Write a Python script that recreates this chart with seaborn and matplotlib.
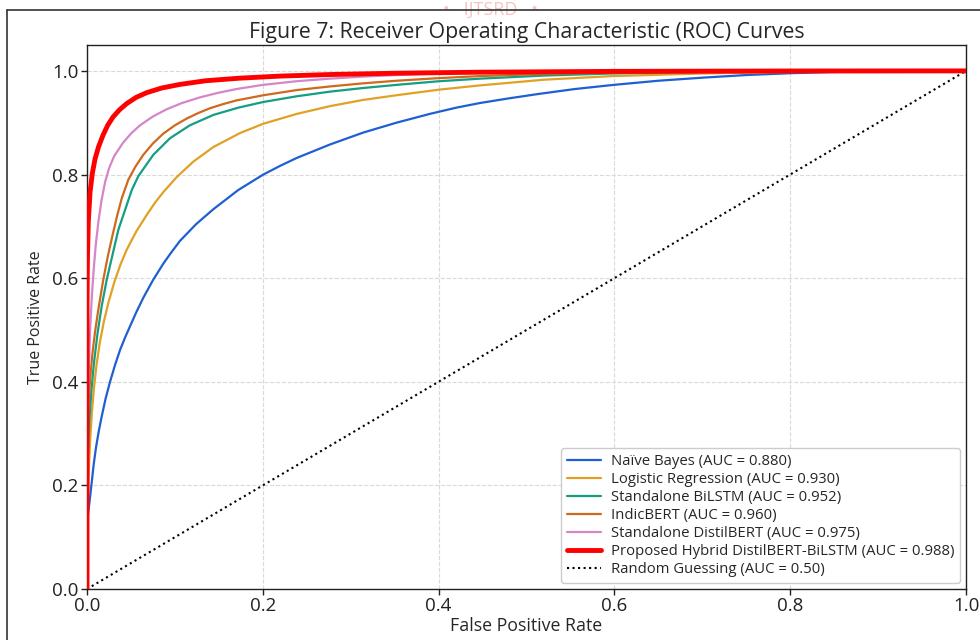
import numpy as np
import pandas as pd
import matplotlib
matplotlib.use("Agg")
import matplotlib.pyplot as plt
from matplotlib.lines import Line2D
import seaborn as sns

# ROC points
nb_fpr = [0.0, 0.0, 0.0008, 0.0026, 0.0053, 0.0077, 0.0102, 0.0133, 0.0167, 0.0212, 0.0262,
          0.0318, 0.0375, 0.0432, 0.0489, 0.056, 0.064, 0.075, 0.0868, 0.096, 0.1058, 0.124,
          0.1437, 0.172, 0.2006, 0.22, 0.2386, 0.2765, 0.3143, 0.352, 0.39, 0.42, 0.447,
          0.48, 0.5116, 0.555, 0.599, 0.65, 0.701, 0.75, 0.80, 0.85, 0.902, 0.95, 1.0]
nb_tpr = [0.0, 0.12, 0.14, 0.165, 0.205, 0.242, 0.273, 0.304, 0.333, 0.368, 0.400,
          0.432, 0.461, 0.485, 0.507, 0.534, 0.562, 0.596, 0.628, 0.650, 0.672, 0.704,
          0.733, 0.770, 0.800, 0.817, 0.832, 0.858, 0.881, 0.900, 0.917, 0.929, 0.938,
          0.947, 0.955, 0.965, 0.973, 0.981, 0.987, 0.992, 0.9955, 0.998, 0.999, 0.9997, 1.0]

lr_fpr = [0.0, 0.0, 0.0008, 0.002, 0.0035, 0.0055, 0.008, 0.011, 0.0145, 0.019, 0.0242,
          0.031, 0.038, 0.0452, 0.056, 0.0679, 0.0775, 0.0868, 0.102, 0.121, 0.1437, 0.174,
          0.2006, 0.2386, 0.2765, 0.3143, 0.352, 0.4016, 0.447, 0.52, 0.598, 0.70, 0.80,
          0.90, 1.0]
lr_tpr = [0.0, 0.08, 0.16, 0.23, 0.285, 0.34, 0.39, 0.435, 0.475, 0.515, 0.552,
          0.592, 0.626, 0.655, 0.690, 0.722, 0.746, 0.766, 0.795, 0.825, 0.853, 0.880,
          0.898, 0.917, 0.932, 0.944, 0.953, 0.964, 0.972, 0.983, 0.990, 0.995, 0.998,
          0.9995, 1.0]

bilstm_fpr = [0.0, 0.0, 0.001, 0.0025, 0.005, 0.008, 0.012, 0.0167, 0.0224, 0.0356, 0.0509,
              0.0584, 0.0754, 0.0944, 0.117, 0.1437, 0.172, 0.2006, 0.2386, 0.2765, 0.3143,
              0.352, 0.40, 0.447, 0.52, 0.598, 0.70, 0.80, 1.0]
bilstm_tpr = [0.0, 0.18, 0.26, 0.32, 0.384, 0.438, 0.494, 0.546, 0.597, 0.693, 0.770,
              0.797, 0.838, 0.870, 0.895, 0.915, 0.929, 0.940, 0.951, 0.960, 0.967,
              0.973, 0.980, 0.985, 0.991, 0.995, 0.998, 0.9993, 1.0]

indic_fpr = [0.0, 0.0, 0.0005, 0.0015, 0.0035, 0.006, 0.009, 0.0129, 0.0185, 0.024, 0.030,
             0.0345, 0.0395, 0.047, 0.055, 0.064, 0.075, 0.0868, 0.10, 0.1134, 0.127, 0.140,
             0.155, 0.170, 0.2006, 0.2386, 0.2765, 0.3143, 0.352, 0.40, 0.447, 0.52, 0.598,
             0.70, 0.80, 1.0]
indic_tpr = [0.0, 0.15, 0.29, 0.35, 0.405, 0.452, 0.495, 0.540, 0.597, 0.645, 0.690,
             0.722, 0.754, 0.790, 0.815, 0.838, 0.860, 0.879, 0.895, 0.908, 0.919, 0.928,
             0.936, 0.943, 0.953, 0.963, 0.970, 0.976, 0.981, 0.986, 0.990, 0.994, 0.997,
             0.999, 0.9997, 1.0]

distil_fpr = [0.0, 0.0, 0.0003, 0.001, 0.002, 0.0035, 0.0053, 0.0075, 0.010, 0.013, 0.0165,
              0.0205, 0.025, 0.031, 0.0413, 0.05, 0.0603, 0.075, 0.0907, 0.108, 0.1286,
              0.15, 0.17, 0.20, 0.238, 0.276, 0.314, 0.352, 0.40, 0.447, 0.52, 0.60, 0.80, 1.0]
distil_tpr = [0.0, 0.12, 0.22, 0.33, 0.42, 0.50, 0.56, 0.615, 0.665, 0.71, 0.75,
              0.785, 0.812, 0.836, 0.862, 0.879, 0.895, 0.912, 0.926, 0.938, 0.949,
              0.958, 0.965, 0.973, 0.980, 0.985, 0.989, 0.992, 0.995, 0.997, 0.9985, 0.9993,
              0.9999, 1.0]

hybrid_fpr = [0.0, 0.0, 0.0005, 0.0015, 0.0034, 0.006, 0.0091, 0.013, 0.0182, 0.0235, 0.0296,
              0.037, 0.0452, 0.056, 0.0679, 0.085, 0.106, 0.135, 0.174, 0.22, 0.2765, 0.35,
              0.447, 0.60, 0.80, 1.0]
hybrid_tpr = [0.0, 0.55, 0.64, 0.71, 0.765, 0.802, 0.830, 0.853, 0.876, 0.895, 0.911,
              0.925, 0.937, 0.949, 0.958, 0.967, 0.974, 0.981, 0.986, 0.990, 0.993, 0.9955,
              0.9975, 0.9991, 0.9998, 1.0]

rand_fpr = [0.0, 1.0]
rand_tpr = [0.0, 1.0]

labels = ["Naïve Bayes (AUC = 0.880)", "Logistic Regression (AUC = 0.930)",
          "Standalone BiLSTM (AUC = 0.952)", "IndicBERT (AUC = 0.960)",
          "Standalone DistilBERT (AUC = 0.975)",
          "Proposed Hybrid DistilBERT-BiLSTM (AUC = 0.988)",
          "Random Guessing (AUC = 0.50)"]
colors = ["#1f5fd1", "#e0a125", "#149e82", "#cf6a1d", "#d486c8", "#ff0000", "black"]

sns.set_style("white")
plt.rcParams['font.family'] = ['Open Sans', 'DejaVu Sans']

fig = plt.figure(figsize=(9.8, 6.4), dpi=100)
ax = fig.add_axes([0.0888, 0.0797, 0.8969, 0.85])

# outer frame + watermark from the scanned page
fig.add_artist(Line2D([7/980, 1.0], [1 - 10/640, 1 - 10/640], transform=fig.transFigure,
                      color="#333333", lw=1.2))
fig.add_artist(Line2D([7/980, 7/980], [0.0, 1 - 10/640], transform=fig.transFigure,
                      color="#333333", lw=1.2))
fig.text(0.5, 1 - 15/640, "•   IJTSRD   •", ha="center", va="baseline",
         fontsize=13, color="#f6c4c4", zorder=0)

series = [(nb_fpr, nb_tpr), (lr_fpr, lr_tpr), (bilstm_fpr, bilstm_tpr),
          (indic_fpr, indic_tpr), (distil_fpr, distil_tpr), (hybrid_fpr, hybrid_tpr)]
for (fx, ty), lab, col in zip(series, labels[:6], colors[:6]):
    df = pd.DataFrame({"FPR": fx, "TPR": ty})
    lw = 3.5 if col == "#ff0000" else 1.6
    sns.lineplot(data=df, x="FPR", y="TPR", ax=ax, color=col, lw=lw, label=lab,
                 estimator=None, sort=False, zorder=3 if lw > 2 else 2)

df = pd.DataFrame({"FPR": rand_fpr, "TPR": rand_tpr})
sns.lineplot(data=df, x="FPR", y="TPR", ax=ax, color="black", lw=1.5, ls=":",
             label=labels[6], estimator=None, sort=False)

ax.set_xlim(0, 1.0)
ax.set_ylim(0, 1.05)
ax.set_xticks([0, 0.2, 0.4, 0.6, 0.8, 1.0])
ax.set_yticks([0, 0.2, 0.4, 0.6, 0.8, 1.0])
ax.tick_params(axis="both", labelsize=13.5, direction="out", length=4, width=1,
               bottom=True, left=True, colors="#222222", pad=2)
ax.grid(True, ls="--", color="#d9d9d9", lw=0.8)
for s in ax.spines.values():
    s.set_color("#222222")
    s.set_linewidth(1.0)

ax.set_title("Figure 7: Receiver Operating Characteristic (ROC) Curves", fontsize=15.3, pad=5)
ax.set_xlabel("False Positive Rate", fontsize=12.8, labelpad=1)
ax.set_ylabel("True Positive Rate", fontsize=11.5, labelpad=6)

ax.legend(loc="lower right", fontsize=10.7, frameon=True, labelspacing=0.2,
          handlelength=2.3, handletextpad=0.65, borderpad=0.4, borderaxespad=0.4,
          framealpha=1, edgecolor="#cccccc")

fig.savefig("out.png", dpi=100)
